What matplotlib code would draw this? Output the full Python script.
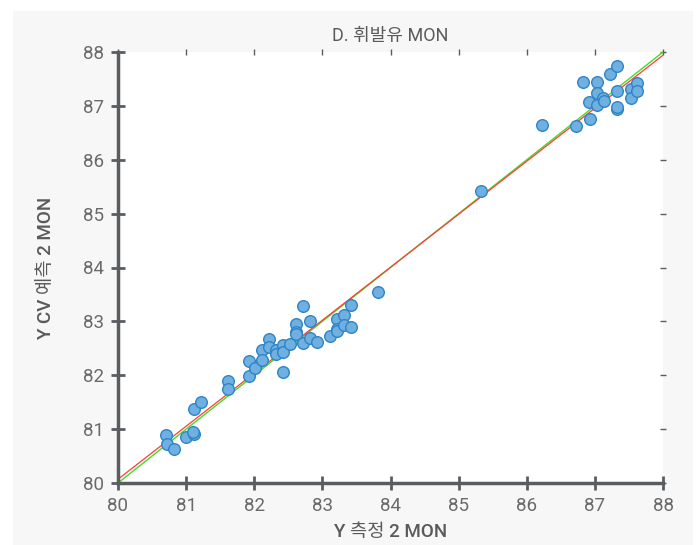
import matplotlib
matplotlib.use("Agg")
import matplotlib.pyplot as plt
from matplotlib.patches import Rectangle

medido = [80.70, 80.72, 80.82, 81.00, 81.12, 81.10, 81.12, 81.22, 81.61, 81.61,
          81.92, 81.92, 82.01, 82.11, 82.11, 82.22, 82.22, 82.32, 82.32, 82.42,
          82.42, 82.42, 82.52, 82.61, 82.61, 82.61, 82.72, 82.72, 82.82, 82.82,
          82.92, 83.11, 83.22, 83.22, 83.22, 83.32, 83.32, 83.42, 83.42, 83.82,
          85.33, 86.22, 86.72, 86.93, 86.83, 87.03, 87.03, 86.91, 87.03, 87.12,
          87.13, 87.22, 87.32, 87.32, 87.32, 87.32, 87.53, 87.53, 87.62, 87.62]
previsto = [80.89, 80.72, 80.63, 80.85, 80.91, 80.94, 81.37, 81.50, 81.89, 81.74,
            82.26, 81.99, 82.13, 82.47, 82.28, 82.67, 82.52, 82.47, 82.39, 82.56,
            82.43, 82.06, 82.58, 82.95, 82.80, 82.76, 83.29, 82.60, 83.00, 82.70,
            82.62, 82.73, 83.04, 82.86, 82.83, 83.12, 82.94, 83.30, 82.90, 83.55,
            85.42, 86.64, 86.63, 86.76, 87.44, 87.44, 87.24, 87.07, 87.02, 87.15,
            87.09, 87.59, 87.74, 87.28, 86.94, 86.97, 87.31, 87.15, 87.42, 87.28]

# retas: ajuste (vermelho) e identidade (verde)
ajuste_a, ajuste_b = 1.37, 0.98375
ident_a, ident_b = 0.0, 1.0

limites = [80, 88]
ticks = list(range(80, 89))

fontes = ["Roboto", "Noto Sans CJK KR", "DejaVu Sans"]
cor_texto = "#5a5a5a"
cor_eixo = "#5a5d60"

fig = plt.figure(figsize=(6.99, 5.45), dpi=100)
fig.patch.set_facecolor("white")
fig.patches.append(Rectangle((13 / 699, 0), (693 - 13) / 699, (545 - 11) / 545,
                             transform=fig.transFigure, facecolor="#f7f7f7",
                             edgecolor="none", zorder=-10))

ax = fig.add_axes([118 / 699, (545 - 483) / 545, (663 - 118) / 699, (483 - 52) / 545])
ax.set_facecolor("white")

xs = limites
ax.plot(xs, [ident_a + ident_b * x for x in xs], color="#44dd22", lw=1, zorder=2)
ax.plot(xs, [ajuste_a + ajuste_b * x for x in xs], color="#ff3b3b", lw=0.9, zorder=2)

ax.scatter(medido, previsto, s=70, facecolor="#70b0e0", edgecolor="#2f84c6",
           linewidth=1, zorder=3)

ax.set_xlim(limites)
ax.set_ylim(limites)
ax.set_xticks(ticks)
ax.set_yticks(ticks)

for lado in ["top", "right"]:
    ax.spines[lado].set_visible(False)
for lado in ["left", "bottom"]:
    ax.spines[lado].set_color(cor_eixo)
    ax.spines[lado].set_linewidth(2.5)

ax.tick_params(axis="both", which="both", colors=cor_eixo, labelcolor="#6a6a6a",
               labelsize=13.5, direction="inout", length=10, width=2, pad=5)
ax.tick_params(top=True, right=True, labeltop=False, labelright=False)
for t in ax.xaxis.get_major_ticks() + ax.yaxis.get_major_ticks():
    t.tick2line.set_markersize(5)
    t.tick2line.set_markeredgewidth(1)
    t.tick2line.set_color("#777777")

for lbl in ax.get_xticklabels() + ax.get_yticklabels():
    lbl.set_family(fontes)

ax.set_xlabel("Y 측정 2 MON", family=fontes, fontsize=13.5, color=cor_texto,
              fontweight="medium", labelpad=6)
ax.set_ylabel("Y CV 예측 2 MON", family=fontes, fontsize=13.5, color=cor_texto,
              fontweight="medium", labelpad=20)
ax.set_title("D. 휘발유 MON", family=fontes, fontsize=13, color=cor_texto,
             pad=8)

fig.savefig("out.png", dpi=100)
